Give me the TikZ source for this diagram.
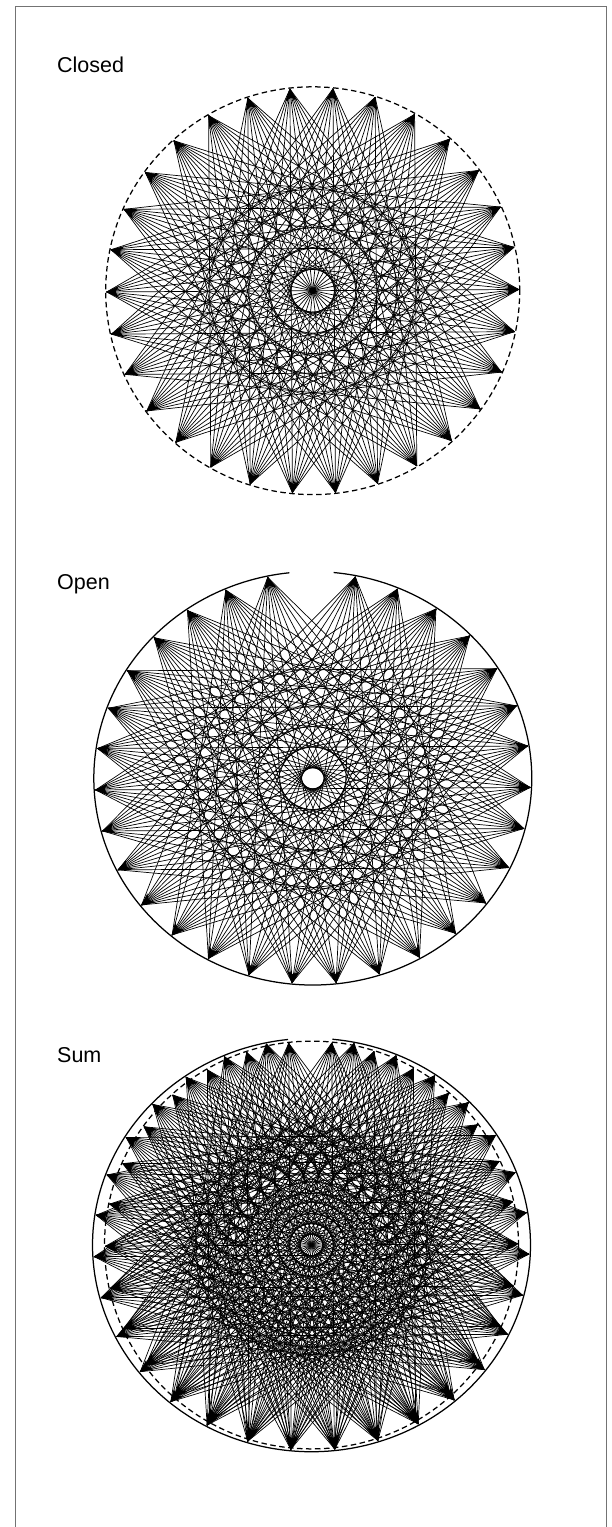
\documentclass[tikz,border=0pt]{standalone}
\usepackage{fontspec}
\setmainfont{Liberation Sans}
\begin{document}
\begin{tikzpicture}[x=1pt,y=-1pt,
  chord/.style={line width=0.7pt, black},
  dashcirc/.style={line width=1.25pt, dash pattern=on 5.5pt off 3.5pt},
  solidcirc/.style={line width=1.25pt},
  frame/.style={line width=1pt, black!55},
  lbl/.style={anchor=base west, inner sep=0pt, font=\fontsize{21.5}{24}\selectfont}]
\useasboundingbox (0,0) rectangle (611,1527);
\draw[frame] (15,1540) -- (15,6) -- (606.5,6) -- (606.5,1540);
\node[lbl] (lc) at (57,72.5) {Closed};
\node[lbl] (lo) at (57,589) {Open};
\node[lbl] (ls) at (57,1062) {Sum};
\def\s{11.612903}
% ---------- Closed ----------
\begin{scope}[shift={(312.7,290.7)}, yscale=0.985, rotate=0.35]
  \draw[dashcirc] (0,0) circle[radius=207];
  \foreach \i in {0,...,29}{\foreach \m in {10,...,14}{
    \draw[chord] (\i*12:206) -- (\i*12+\m*12:206);}}
  \foreach \i in {0,...,14}{\draw[chord] (\i*12:206) -- (\i*12+180:206);}
  \foreach \i in {0,...,29}{\fill (\i*12:206.5) -- (\i*12+1.8:194) -- (\i*12:197) -- (\i*12-1.8:194) -- cycle;}
  \fill (0,0) circle[radius=3.5];
\end{scope}
% ---------- Open ----------
\begin{scope}[shift={(312.8,778.3)}, yscale=0.944, rotate=0.35]
  \draw[solidcirc] plot[domain=275.806:624.194, samples=240, smooth] (\x:219);
  \foreach \k in {1,...,30}{\foreach \m in {10,...,15}{
    \pgfmathtruncatemacro\t{\k+\m}
    \ifnum\t=31 \else \draw[chord] (270+\k*\s:217.5) -- (270+\t*\s:217.5);\fi}}
  \foreach \k in {1,...,30}{\fill (270+\k*\s:218.5) -- (270+\k*\s+1.7:205.5) -- (270+\k*\s:208.5) -- (270+\k*\s-1.7:205.5) -- cycle;}
\end{scope}
% ---------- Sum ----------
\begin{scope}[shift={(311.5,1245)}, yscale=0.985, rotate=0.35]
  \draw[dashcirc] (0,0) circle[radius=207];
  \foreach \i in {0,...,29}{\foreach \m in {10,...,14}{
    \draw[chord] (\i*12:206) -- (\i*12+\m*12:206);}}
  \foreach \i in {0,...,14}{\draw[chord] (\i*12:206) -- (\i*12+180:206);}
  \foreach \i in {0,...,29}{\fill (\i*12:206.5) -- (\i*12+1.8:194) -- (\i*12:197) -- (\i*12-1.8:194) -- cycle;}
\end{scope}
\begin{scope}[shift={(311.5,1245)}, yscale=0.944, rotate=0.35]
  \draw[solidcirc] plot[domain=275.806:624.194, samples=240, smooth] (\x:219);
  \foreach \k in {1,...,30}{\foreach \m in {10,...,15}{
    \pgfmathtruncatemacro\t{\k+\m}
    \ifnum\t=31 \else \draw[chord] (270+\k*\s:217.5) -- (270+\t*\s:217.5);\fi}}
  \foreach \k in {1,...,30}{\fill (270+\k*\s:218.5) -- (270+\k*\s+1.7:205.5) -- (270+\k*\s:208.5) -- (270+\k*\s-1.7:205.5) -- cycle;}
\end{scope}
\end{tikzpicture}
\end{document}
